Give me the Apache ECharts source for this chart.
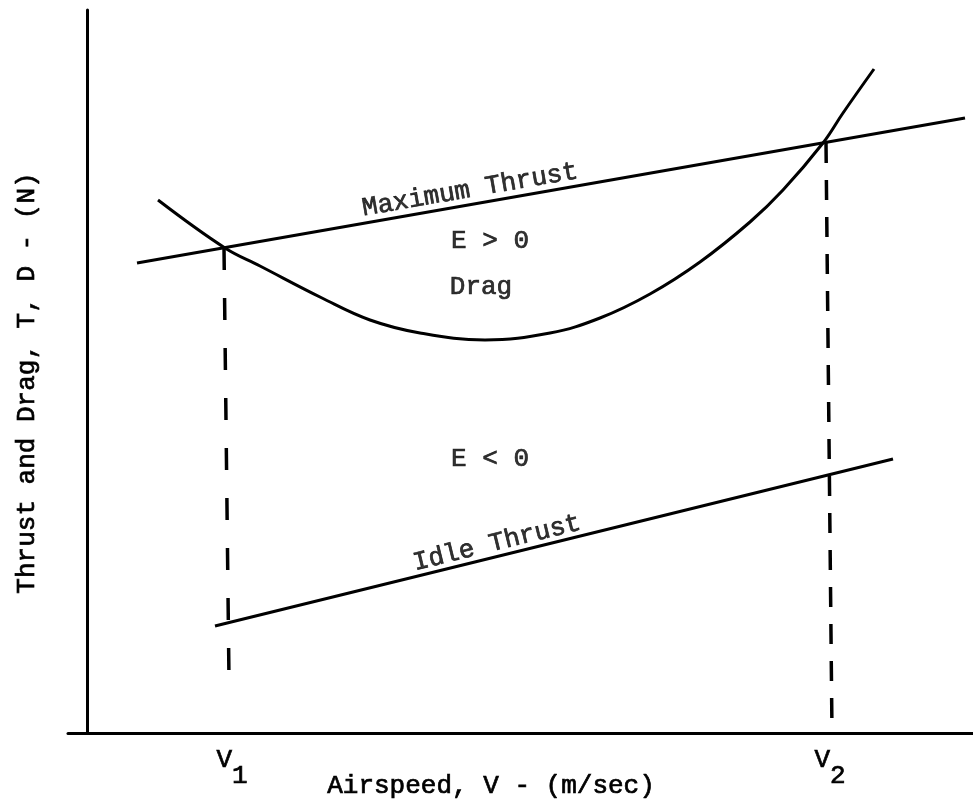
<!DOCTYPE html>
<html>
<head>
<meta charset="utf-8">
<title>Thrust and Drag vs Airspeed</title>
<script src="https://cdn.jsdelivr.net/npm/echarts@6/dist/echarts.min.js"></script>
<style>
  html, body { margin: 0; padding: 0; background: #ffffff; }
  #chart { width: 973px; height: 807px; }
</style>
</head>
<body>
<div id="chart"></div>
<script>
// Airspeed / force values in arbitrary plot units (the figure carries no numeric scale)
const maxThrustPts = [[5.0, 47.0], [87.8, 61.5]];
const idleThrustPts = [[12.8, 10.7], [80.6, 27.4]];
const dragSpeed = [7.1, 13.8, 17.3, 23.5, 28.3, 33.3, 39.8, 46.3, 51.3, 56.3, 61.3, 66.3, 69.6, 73.6, 75.6, 78.7];
const dragForce = [53.3, 48.5, 46.7, 43.5, 41.3, 40.0, 39.3, 40.0, 41.5, 43.9, 47.1, 51.1, 54.3, 59.0, 62.0, 66.4];
// Vertical guides from the thrust/drag crossings down to the airspeed axis
const v1Guide = [[13.7, 48.5], [14.2, 5.3]];
const v2Guide = [[73.9, 59.0], [74.5, 0]];
// Airspeed tick marks: V1 and V2
const speedTicks = [14.5, 74.3];
const speedTickSubs = ['1', '2'];
// Region / curve annotations
const noteText = ['Maximum Thrust', 'E > 0', 'Drag', 'E < 0', 'Idle Thrust'];
const noteAt = [[38.3, 54.3], [40.3, 49.2], [39.4, 44.6], [40.3, 27.4], [41.0, 19.0]];
const noteRotate = [9.9, 0, 0, 0, 13.8];

const FONT = "'Liberation Mono', 'DejaVu Sans Mono', monospace";
const INK = '#000000';

const dragPts = dragSpeed.map((v, i) => [v, dragForce[i]]);

const chart = echarts.init(document.getElementById('chart'), null, { renderer: 'canvas' });

const textBase = {
  fontFamily: FONT, fontSize: 26, color: INK,
  textBorderColor: INK, textBorderWidth: 0.7
};

chart.setOption({
  backgroundColor: '#ffffff',
  animation: false,
  grid: {
    left: 68, right: 0, top: 10, bottom: 74,
    containLabel: false,
    outerBoundsMode: 'none'
  },
  xAxis: {
    type: 'value',
    min: -1.9,
    max: 88.6,
    splitLine: { show: false },
    axisTick: { show: false },
    axisLine: { show: true, onZero: true, lineStyle: { color: INK, width: 3 } },
    axisLabel: {
      show: true,
      customValues: speedTicks,
      margin: 14,
      formatter: function (val) {
        const i = speedTicks.indexOf(val);
        return '{v|V}{s|' + (i >= 0 ? speedTickSubs[i] : '') + '}';
      },
      rich: {
        v: Object.assign({}, textBase, { verticalAlign: 'top', lineHeight: 42 }),
        s: Object.assign({}, textBase, { verticalAlign: 'bottom', lineHeight: 42 })
      }
    },
    name: 'Airspeed, V - (m/sec)',
    nameLocation: 'middle',
    nameMoveOverlap: false,
    nameGap: 40,
    nameTextStyle: Object.assign({}, textBase, { padding: [0, 59, 0, 0] })
  },
  yAxis: {
    type: 'value',
    min: 0,
    max: 72.3,
    splitLine: { show: false },
    axisTick: { show: false },
    axisLabel: { show: false },
    axisLine: { show: true, onZero: true, lineStyle: { color: INK, width: 3 } },
    name: 'Thrust and Drag, T, D - (N)',
    nameLocation: 'middle',
    nameMoveOverlap: false,
    nameGap: 28,
    nameTextStyle: Object.assign({}, textBase, { padding: [0, 23, 0, 0] })
  },
  series: [
    {
      name: 'Maximum Thrust',
      type: 'line',
      data: maxThrustPts,
      symbol: 'none',
      lineStyle: { color: INK, width: 3 }
    },
    {
      name: 'Idle Thrust',
      type: 'line',
      data: idleThrustPts,
      symbol: 'none',
      lineStyle: { color: INK, width: 3 }
    },
    {
      name: 'Drag',
      type: 'line',
      data: dragPts,
      smooth: 0.4,
      symbol: 'none',
      lineStyle: { color: INK, width: 3 }
    },
    {
      name: 'V1 guide',
      type: 'line',
      data: v1Guide,
      symbol: 'none',
      lineStyle: { color: INK, width: 3.5, type: [22, 28] }
    },
    {
      name: 'V2 guide',
      type: 'line',
      data: v2Guide,
      symbol: 'none',
      lineStyle: { color: INK, width: 3.5, type: [20, 17] }
    },
    {
      name: 'notes',
      type: 'scatter',
      symbolSize: 0,
      silent: true,
      data: noteText.map((t, i) => ({
        value: noteAt[i],
        label: Object.assign({
          show: true,
          position: 'inside',
          formatter: t,
          rotate: noteRotate[i]
        }, textBase)
      }))
    }
  ]
});
</script>
</body>
</html>
